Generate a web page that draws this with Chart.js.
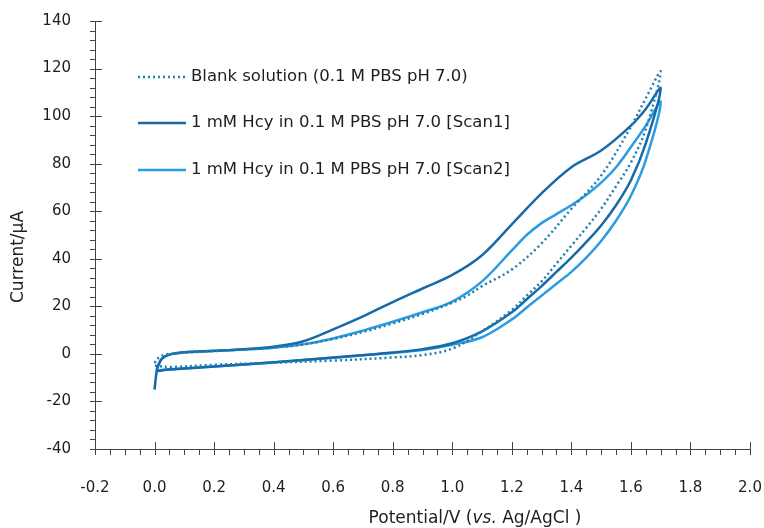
<!DOCTYPE html>
<html>
<head>
<meta charset="utf-8">
<script src="https://cdn.jsdelivr.net/npm/chart.js@4.4.1/dist/chart.umd.min.js"></script>
<style>
html, body { margin: 0; padding: 0; background: #fff; }
#wrap { width: 764px; height: 528px; position: relative; }
</style>
</head>
<body>
<div id="wrap"><canvas id="cv"></canvas></div>
<script>
// cyclic voltammograms, forward scan 0 -> 1.7 V then back to 0 V
const blankV = [0.0, 0.01, 0.03, 0.06, 0.13, 0.2, 0.3, 0.4, 0.5, 0.6, 0.7, 0.8, 0.9, 1.0, 1.05, 1.1, 1.2, 1.3, 1.4, 1.5, 1.6, 1.65, 1.7,
                1.65, 1.6, 1.55, 1.5, 1.45, 1.4, 1.35, 1.3, 1.25, 1.2, 1.1, 1.0, 0.9, 0.8, 0.6, 0.4, 0.2, 0.05, 0.0];
const blankI = [-3.8, -2, -0.5, 0.1, 0.7, 1.2, 1.9, 2.7, 4, 6.3, 9.2, 12.8, 16.8, 21.5, 24.5, 28.5, 35.5, 46.5, 61, 75, 95.5, 107.5, 118.7,
                94.5, 80.5, 70.5, 61, 53, 45.5, 38, 30.5, 24.5, 18.5, 9.5, 2.2, -0.5, -1.5, -2.8, -3.7, -4.6, -5.5, -5];

const scan1V = [0.0, 0.007, 0.012, 0.025, 0.05, 0.1, 0.2, 0.3, 0.4, 0.5, 0.6, 0.7, 0.8, 0.9, 1.0, 1.1, 1.2, 1.3, 1.4, 1.5, 1.6, 1.65, 1.7,
                1.65, 1.6, 1.55, 1.5, 1.45, 1.4, 1.35, 1.3, 1.25, 1.2, 1.1, 1.0, 0.9, 0.8, 0.6, 0.4, 0.2, 0.05, 0.01];
const scan1I = [-15, -7.3, -5, -2, -0.3, 0.7, 1.3, 2.0, 3.0, 5.3, 10.3, 15.8, 21.8, 27.5, 33.2, 41.5, 54.5, 67.5, 78.5, 85.5, 96, 103, 111.7,
                88.5, 73, 62.5, 54, 47, 40.5, 34.5, 28.5, 23, 17.5, 9.5, 4.5, 2, 0.6, -1.5, -3.5, -5.3, -6.6, -7.2];

const scan2V = [0.007, 0.012, 0.025, 0.05, 0.1, 0.2, 0.3, 0.4, 0.5, 0.6, 0.7, 0.8, 0.9, 1.0, 1.1, 1.2, 1.25, 1.3, 1.35, 1.4, 1.45, 1.5, 1.55, 1.6, 1.65, 1.7,
                1.65, 1.6, 1.55, 1.5, 1.45, 1.4, 1.35, 1.3, 1.25, 1.2, 1.1, 1.0, 0.9, 0.8, 0.6, 0.4, 0.2, 0.05, 0.01];
const scan2I = [-7, -5, -2, -0.3, 0.7, 1.2, 1.8, 2.6, 4, 6.5, 9.8, 13.5, 17.5, 22, 30.5, 43.5, 50, 55, 58.8, 62.5, 66.8, 72, 78.5, 87, 96, 106,
                81.5, 66.5, 56, 47.5, 40.5, 34.5, 29.5, 24.5, 19.5, 14.5, 7, 3.8, 1.6, 0.4, -1.6, -3.6, -5.3, -6.5, -7];

const xTicksMin = -0.2, xTicksMax = 2.0, xMajor = 0.2, xMinor = 0.05;
const yTicksMin = -40, yTicksMax = 140, yMajor = 20, yMinor = 4;

const colors = {
    blank: '#1f7fae',
    scan1: '#176aa8',
    scan2: '#2b9be3',
    axis: '#444',
    text: '#1e1e1e'
};
const FONT = '"DejaVu Sans", Verdana, sans-serif';

function toPoints(xs, ys) {
    return xs.map((x, i) => ({ x: x, y: ys[i] }));
}

// tick marks: major ones cross the axis, minor ones sit outside
const tickMarks = {
    id: 'tickMarks',
    afterDraw(chart) {
        const ctx = chart.ctx;
        const xs = chart.scales.x, ys = chart.scales.y;
        const area = chart.chartArea;
        ctx.save();
        ctx.strokeStyle = colors.axis;
        ctx.lineWidth = 1;
        ctx.beginPath();
        const nx = Math.round((xTicksMax - xTicksMin) / xMinor);
        for (let i = 0; i <= nx; i++) {
            const px = Math.round(xs.getPixelForValue(xTicksMin + i * xMinor)) + 0.5;
            const major = i % Math.round(xMajor / xMinor) === 0;
            ctx.moveTo(px, area.bottom - (major ? 7 : 0));
            ctx.lineTo(px, area.bottom + 6);
        }
        const ny = Math.round((yTicksMax - yTicksMin) / yMinor);
        for (let i = 0; i <= ny; i++) {
            const py = Math.round(ys.getPixelForValue(yTicksMin + i * yMinor)) + 0.5;
            const major = i % Math.round(yMajor / yMinor) === 0;
            ctx.moveTo(area.left - 5, py);
            ctx.lineTo(area.left + (major ? 7 : 0), py);
        }
        ctx.stroke();
        ctx.restore();
    }
};

// legend sits inside the plot, top left
const legendRows = [77, 123, 170];
const cvLegend = {
    id: 'cvLegend',
    afterDatasetsDraw(chart) {
        const ctx = chart.ctx;
        chart.data.datasets.forEach((ds, i) => {
            const y = legendRows[i];
            ctx.save();
            ctx.strokeStyle = ds.borderColor;
            ctx.lineWidth = ds.borderWidth;
            ctx.setLineDash(ds.borderDash || []);
            ctx.beginPath();
            ctx.moveTo(138, y);
            ctx.lineTo(186, y);
            ctx.stroke();
            ctx.setLineDash([]);
            ctx.fillStyle = colors.text;
            ctx.font = '16.5px ' + FONT;
            ctx.textBaseline = 'middle';
            ctx.fillText(ds.label, 191, y);
            ctx.restore();
        });
    }
};

const axisTitles = {
    id: 'axisTitles',
    afterDraw(chart) {
        const ctx = chart.ctx;
        ctx.save();
        ctx.fillStyle = colors.text;
        ctx.textBaseline = 'middle';
        // y title
        ctx.save();
        ctx.translate(19, 257);
        ctx.rotate(-Math.PI / 2);
        ctx.font = '17px ' + FONT;
        ctx.textAlign = 'center';
        ctx.fillText('Current/μA', 0, 0);
        ctx.restore();
        // x title with italic "vs."
        const parts = [['Potential/V (', 'normal'], ['vs.', 'italic'], [' Ag/AgCl )', 'normal']];
        let total = 0;
        parts.forEach(p => { ctx.font = p[1] + ' 17px ' + FONT; total += ctx.measureText(p[0]).width; });
        let x = 475 - total / 2;
        ctx.textAlign = 'left';
        parts.forEach(p => {
            ctx.font = p[1] + ' 17px ' + FONT;
            ctx.fillText(p[0], x, 519);
            x += ctx.measureText(p[0]).width;
        });
        ctx.restore();
    }
};

const lineDefaults = { showLine: true, pointRadius: 0, pointHoverRadius: 0, tension: 0.35, fill: false };

new Chart(document.getElementById('cv'), {
    type: 'scatter',
    data: {
        datasets: [
            Object.assign({
                label: 'Blank solution (0.1 M PBS pH 7.0)',
                data: toPoints(blankV, blankI),
                borderColor: colors.blank, borderWidth: 2.5, borderDash: [2, 3]
            }, lineDefaults),
            Object.assign({
                label: '1 mM Hcy in 0.1 M PBS pH 7.0 [Scan1]',
                data: toPoints(scan1V, scan1I),
                borderColor: colors.scan1, borderWidth: 2.5
            }, lineDefaults),
            Object.assign({
                label: '1 mM Hcy in 0.1 M PBS pH 7.0 [Scan2]',
                data: toPoints(scan2V, scan2I),
                borderColor: colors.scan2, borderWidth: 2.5
            }, lineDefaults)
        ]
    },
    options: {
        responsive: true,
        maintainAspectRatio: false,
        animation: false,
        layout: { padding: { top: 21, right: 14, left: 0, bottom: 0 } },
        plugins: { legend: { display: false }, tooltip: { enabled: false } },
        scales: {
            x: {
                type: 'linear', min: xTicksMin, max: xTicksMax,
                afterFit: s => { s.height = 79; s.paddingLeft = 0; s.paddingRight = 0; },
                grid: { display: false, drawTicks: false },
                border: { display: true, color: colors.axis, width: 1 },
                ticks: {
                    stepSize: xMajor, padding: 30, color: colors.text,
                    font: { family: FONT, size: 15 },
                    callback: v => Number(v).toFixed(1)
                }
            },
            y: {
                type: 'linear', min: yTicksMin, max: yTicksMax,
                afterFit: s => { s.width = 95; s.paddingTop = 0; s.paddingBottom = 0; },
                grid: { display: false, drawTicks: false },
                border: { display: true, color: colors.axis, width: 1 },
                ticks: {
                    stepSize: yMajor, padding: 24, color: colors.text,
                    font: { family: FONT, size: 15 }
                }
            }
        }
    },
    plugins: [tickMarks, cvLegend, axisTitles]
});
</script>
</body>
</html>
